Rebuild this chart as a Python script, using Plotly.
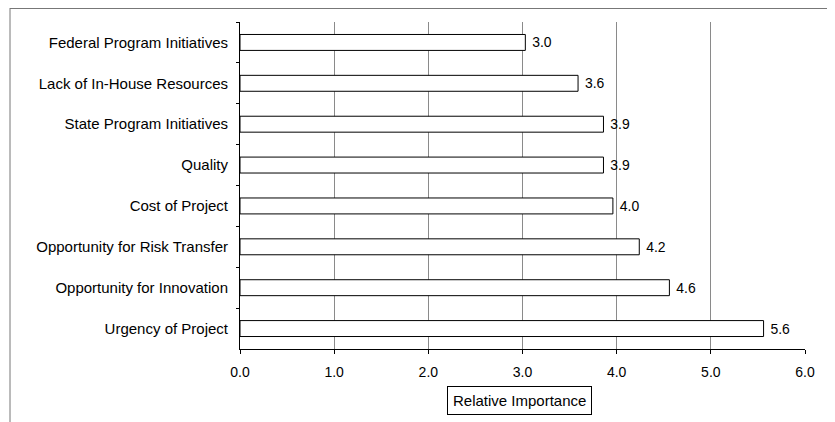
import plotly.graph_objects as go

# data (top to bottom)
factors = [
    "Federal Program Initiatives",
    "Lack of In-House Resources",
    "State Program Initiatives",
    "Quality",
    "Cost of Project",
    "Opportunity for Risk Transfer",
    "Opportunity for Innovation",
    "Urgency of Project",
]
importance = [3.03, 3.59, 3.86, 3.86, 3.96, 4.24, 4.56, 5.56]
x_ticks = [0, 1, 2, 3, 4, 5, 6]
x_tick_labels = ["0.0", "1.0", "2.0", "3.0", "4.0", "5.0", "6.0"]

# page body adds an 8px margin, so the figure is a bit smaller than the window
W, H = 827, 414
L, R, T, B = 232, 30, 14, 73

fig = go.Figure(
    go.Bar(
        x=importance,
        y=factors,
        orientation="h",
        width=0.39,
        marker=dict(color="white", line=dict(color="black", width=1)),
        texttemplate=" %{x:.1f}",
        textposition="outside",
        textfont=dict(size=14, color="black"),
        cliponaxis=False,
    )
)

fig.update_layout(
    width=W,
    height=H,
    margin=dict(l=L, r=R, t=T, b=B),
    paper_bgcolor="white",
    plot_bgcolor="white",
    font=dict(family="Liberation Sans, Arial, sans-serif", size=14, color="black"),
    showlegend=False,
)

fig.update_xaxes(
    range=[0, 6],
    tickvals=x_ticks,
    ticktext=x_tick_labels,
    tickfont=dict(size=14),
    showgrid=True,
    gridcolor="#8a8a8a",
    gridwidth=1,
    showline=True,
    linecolor="black",
    linewidth=1,
    ticks="outside",
    ticklen=4,
    tickcolor="black",
    ticklabelstandoff=6,
    zeroline=False,
)

fig.update_yaxes(
    autorange="reversed",
    tickfont=dict(size=15),
    showgrid=False,
    showline=True,
    linecolor="black",
    linewidth=1,
    ticks="outside",
    ticklen=3,
    tickcolor="black",
    tickson="boundaries",
    ticklabelstandoff=8,
)

pw, ph = W - L - R, H - T - B
px_x = lambda p: (p - L) / pw
px_y = lambda p: 1 - (p - T) / ph

# axis title drawn in a box, like the original
fig.add_annotation(
    text="Relative Importance",
    xref="paper", yref="paper",
    x=px_x(511), y=px_y(392),
    xanchor="center", yanchor="middle",
    showarrow=False,
    font=dict(size=15, color="black"),
    bordercolor="black",
    borderwidth=1,
    borderpad=5,
    bgcolor="white",
)

# outer chart frame (left and top edges visible in the scan)
fig.add_shape(type="line", xref="paper", yref="paper",
              x0=px_x(2), x1=px_x(W), y0=px_y(0.5), y1=px_y(0.5),
              line=dict(color="#777", width=1))
fig.add_shape(type="line", xref="paper", yref="paper",
              x0=px_x(2), x1=px_x(2), y0=px_y(0), y1=px_y(H),
              line=dict(color="#777", width=1))

fig.write_html("out.html")
